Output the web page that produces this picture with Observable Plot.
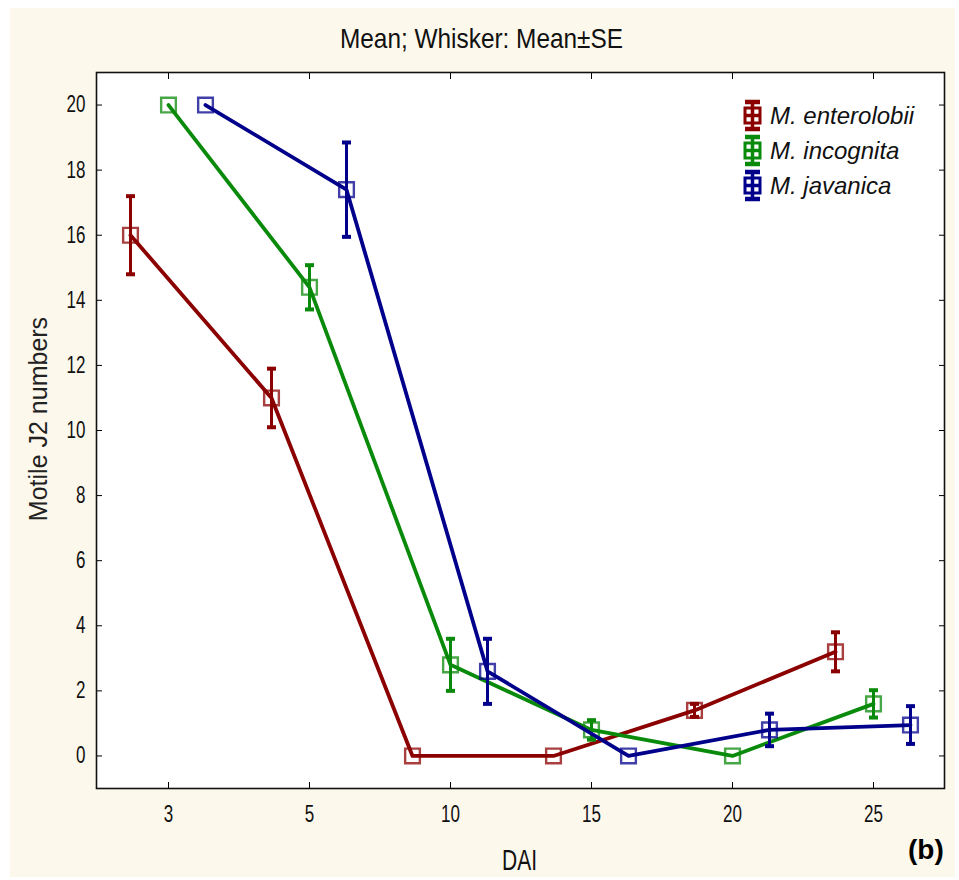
<!DOCTYPE html>
<html><head><meta charset="utf-8">
<script src="https://cdn.jsdelivr.net/npm/d3@7"></script>
<script src="https://cdn.jsdelivr.net/npm/@observablehq/plot@0.6"></script>
<style>
body{margin:0;background:#fff;}
#wrap{position:relative;width:959px;height:880px;background:#fff;overflow:hidden;}
#bg{position:absolute;left:10px;top:8px;width:945px;height:869px;background:#fdf8ec;}
#chart{position:absolute;left:0;top:0;}
.fit{position:absolute;font-family:"Liberation Sans",Arial,sans-serif;white-space:nowrap;line-height:1;color:#111;display:inline-block;transform-origin:0 0;}
#ylabel{position:absolute;left:38px;top:419px;transform:translate(-50%,-50%) rotate(-90deg);font-family:"Liberation Sans",Arial,sans-serif;font-size:25px;white-space:nowrap;color:#222;line-height:1;}
#tag{position:absolute;left:908px;top:836px;font-family:"Liberation Sans",Arial,sans-serif;font-weight:bold;font-size:28px;color:#000;line-height:1;}
#legend{position:absolute;left:742px;top:98px;}
.row{display:flex;align-items:center;height:35px;font-family:"Liberation Sans",Arial,sans-serif;font-style:italic;font-size:24px;color:#111;}
.row svg{margin-right:7px;}
</style>
</head><body>
<div id="wrap">
  <div id="bg"></div>
  <div id="chart"></div>
  <span id="title" class="fit" style="font-size:28px;top:25px;">Mean; Whisker: Mean±SE</span>
  <div id="ylabel">Motile J2 numbers</div>
  <span id="xlabel" class="fit" style="font-size:30px;top:845px;">DAI</span>
  <div id="tag">(b)</div>
  <div id="legend"></div>
</div>
<script>
// ---- data ----
const days = ["3", "5", "10", "15", "20", "25"];
const yTicks = [0, 2, 4, 6, 8, 10, 12, 14, 16, 18, 20];
const seriesNames = ["M. enterolobii", "M. incognita", "M. javanica"];
const seriesColors = ["#8b0000", "#0a8a0a", "#00008b"];
const seriesOffsets = [-38, 0, 37];
const enterolobiiMean = [16, 11, 0, 0, 1.4, 3.2];
const enterolobiiSE   = [1.2, 0.9, 0, 0, 0.2, 0.6];
const incognitaMean   = [20, 14.4, 2.8, 0.8, 0, 1.6];
const incognitaSE     = [0, 0.68, 0.8, 0.3, 0, 0.42];
const javanicaMean    = [20, 17.4, 2.6, 0, 0.8, 0.95];
const javanicaSE      = [0, 1.45, 1.0, 0, 0.5, 0.58];

const means = [enterolobiiMean, incognitaMean, javanicaMean];
const ses = [enterolobiiSE, incognitaSE, javanicaSE];

const capSymbol = {draw(ctx) { ctx.moveTo(-4.5, 0); ctx.lineTo(4.5, 0); }};

const marks = [Plot.frame({fill: "white", stroke: null})];
seriesNames.forEach((name, i) => {
  const data = days.map((d, k) => ({day: d, mean: means[i][k], se: ses[i][k],
    lo: means[i][k] - ses[i][k], hi: means[i][k] + ses[i][k]}));
  const err = data.filter(d => d.se > 0);
  const c = seriesColors[i], dx = seriesOffsets[i];
  marks.push(
    Plot.line(data, {x: "day", y: "mean", stroke: c, strokeWidth: 3.8, dx}),
    Plot.ruleX(err, {x: "day", y1: "lo", y2: "hi", stroke: c, strokeWidth: 3, dx}),
    Plot.dot(err, {x: "day", y: "lo", symbol: capSymbol, stroke: c, strokeWidth: 4, fill: "none", dx}),
    Plot.dot(err, {x: "day", y: "hi", symbol: capSymbol, stroke: c, strokeWidth: 4, fill: "none", dx}),
    Plot.dot(data, {x: "day", y: "mean", symbol: "square", r: 8.3, stroke: c, strokeOpacity: 0.75, strokeWidth: 2.4, fill: "none", dx})
  );
});
marks.push(
  Plot.axisY(yTicks, {anchor: "left", tickSize: 0, tickPadding: 11, fontSize: 23, label: null, fill: "#111", ariaLabel: "ylab"}),
  Plot.axisY(yTicks, {anchor: "left", tickSize: 6, dx: 6, tickFormat: () => "", label: null}),
  Plot.axisY(yTicks, {anchor: "right", tickSize: 6, dx: -6, tickFormat: () => "", label: null}),
  Plot.axisX({anchor: "bottom", tickSize: 0, tickPadding: 17, fontSize: 23, label: null, fill: "#111", ariaLabel: "xlab"}),
  Plot.axisX({anchor: "bottom", tickSize: 6, dy: -6, tickFormat: () => "", label: null}),
  Plot.axisX({anchor: "top", tickSize: 6, dy: 6, tickFormat: () => "", label: null}),
  Plot.frame({stroke: "#111", strokeWidth: 1.6})
);

const chart = Plot.plot({
  width: 959, height: 880,
  marginTop: 72, marginBottom: 92, marginLeft: 96, marginRight: 15,
  x: {type: "point", domain: days, padding: 0.5},
  y: {domain: [-1, 21]},
  style: {background: "transparent", fontFamily: '"Liberation Sans",Arial,sans-serif', overflow: "visible"},
  marks
});
document.getElementById("chart").appendChild(chart);

// condense tick labels (narrow font look)
chart.querySelectorAll("text").forEach(t => {
  const tr = t.getAttribute("transform") || "";
  t.setAttribute("transform", tr + " scale(0.74,1)");
});

// fit condensed HTML texts
function fit(id, targetWidth, centerX) {
  const el = document.getElementById(id);
  const w = el.getBoundingClientRect().width;
  const s = targetWidth / w;
  el.style.left = (centerX - targetWidth / 2) + "px";
  el.style.transform = `scaleX(${s})`;
}
fit("title", 283, 481.5);
fit("xlabel", 35, 519.5);

// legend
const leg = document.getElementById("legend");
seriesNames.forEach((name, i) => {
  const c = seriesColors[i];
  const row = document.createElement("div");
  row.className = "row";
  row.innerHTML = `<svg width="21" height="33" viewBox="0 0 21 33">
    <line x1="10.5" y1="3" x2="10.5" y2="30" stroke="${c}" stroke-width="3.5"/>
    <line x1="3" y1="3" x2="18" y2="3" stroke="${c}" stroke-width="4.5"/>
    <line x1="3" y1="30" x2="18" y2="30" stroke="${c}" stroke-width="4.5"/>
    <rect x="3" y="9" width="15" height="15" fill="none" stroke="${c}" stroke-width="3"/>
    <line x1="3" y1="16.5" x2="18" y2="16.5" stroke="${c}" stroke-width="3.5"/>
  </svg><span>${name}</span>`;
  leg.appendChild(row);
});
</script>
</body></html>
